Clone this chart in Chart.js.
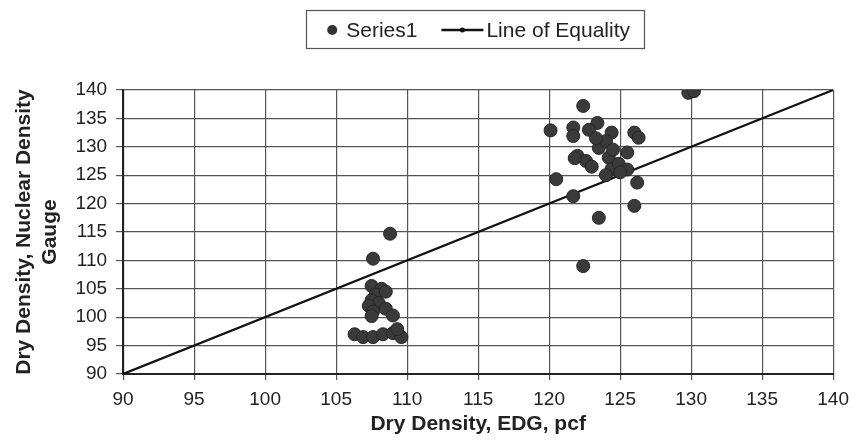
<!DOCTYPE html>
<html>
<head>
<meta charset="utf-8">
<script src="https://cdn.jsdelivr.net/npm/chart.js@4.4.0/dist/chart.umd.min.js"></script>
<style>
  html, body { margin: 0; padding: 0; background: #fff; }
  #wrap { width: 859px; height: 442px; }
</style>
</head>
<body>
<div id="wrap"><canvas id="myChart" width="859" height="442"></canvas></div>
<script>
/* DATA */
// EDG dry density (pcf) vs. nuclear gauge dry density (pcf)
var edgDensity = [
  108.8, 107.6, 107.5, 108.2, 107.8, 108.5, 107.5, 108.0, 107.3, 107.6, 108.5, 107.5, 109.0,
  106.3, 106.9, 107.6, 108.3, 109.0, 109.6, 109.3,
  120.1, 122.4, 129.8, 130.2, 121.7, 121.7, 123.4, 124.4, 126.0, 126.3, 122.0, 122.6, 123.5,
  124.0, 124.2, 125.5, 124.4, 124.9, 126.2, 120.5, 121.7, 126.0, 123.5, 122.4, 125.5, 123.0,
  121.8, 125.0, 124.0, 122.8, 123.3, 124.5
];
var nuclearDensity = [
  114.7, 110.3, 105.5, 105.0, 104.0, 104.5, 103.0, 102.5, 102.0, 101.0, 101.5, 100.2, 100.3,
  97.0, 96.5, 96.5, 97.0, 97.2, 96.5, 97.9,
  132.9, 137.2, 139.5, 139.8, 133.4, 131.9, 134.2, 132.5, 132.5, 131.6, 128.4, 127.5, 129.8,
  131.0, 128.1, 129.0, 126.1, 127.0, 123.7, 124.3, 121.3, 119.6, 117.5, 109.0, 126.0, 126.5,
  128.0, 125.5, 125.0, 133.0, 131.5, 129.5
];
var equalityLine = [90, 140];
var seriesNames = ['Series1', 'Line of Equality'];
var axisMin = 90, axisMax = 140, axisStep = 5;
/* DATA */

var FONT = 'Liberation Sans, Arial, sans-serif';
var scatterPoints = edgDensity.map(function (v, i) { return { x: v, y: nuclearDensity[i] }; });
var linePoints = equalityLine.map(function (v) { return { x: v, y: v }; });

// boxed legend above the plot, drawn by hand (dot marker, line with a small dot)
var boxedLegend = {
  id: 'boxedLegend',
  afterDraw: function (chart) {
    var ctx = chart.ctx;
    var area = chart.chartArea;
    var cy = 30;
    ctx.save();
    ctx.font = '21px ' + FONT;
    var w1 = ctx.measureText(seriesNames[0]).width;
    var w2 = ctx.measureText(seriesNames[1]).width;
    var total = 12 + 8 + w1 + 24 + 42 + 3 + w2;
    var x = (area.left + area.right) / 2 - total / 2;

    ctx.strokeStyle = '#555';
    ctx.lineWidth = 1.2;
    ctx.strokeRect(Math.round(x - 20) + 0.5, 10.5, Math.round(total + 34), 38);

    // Series1 marker
    ctx.fillStyle = '#333';
    ctx.beginPath();
    ctx.arc(x + 6, cy, 5, 0, Math.PI * 2);
    ctx.fill();
    ctx.fillStyle = '#222';
    ctx.textBaseline = 'middle';
    ctx.fillText(seriesNames[0], x + 20, cy + 1);

    // Line of Equality marker
    var lx = x + 20 + w1 + 24;
    ctx.strokeStyle = '#111';
    ctx.lineWidth = 2.5;
    ctx.beginPath();
    ctx.moveTo(lx, cy);
    ctx.lineTo(lx + 42, cy);
    ctx.stroke();
    ctx.fillStyle = '#111';
    ctx.beginPath();
    ctx.arc(lx + 21, cy, 2.5, 0, Math.PI * 2);
    ctx.fill();
    ctx.fillStyle = '#222';
    ctx.fillText(seriesNames[1], lx + 45, cy + 1);
    ctx.restore();
  }
};

var tickFont = { family: FONT, size: 19, lineHeight: 1 };
var xTitleFont = { family: FONT, size: 21, weight: 'bold', lineHeight: 1 };
var yTitleFont = { family: FONT, size: 21, weight: 'bold', lineHeight: 1.2 };

var config = {
    type: 'scatter',
    data: {
        datasets: [
            {
                label: seriesNames[0],
                data: scatterPoints,
                backgroundColor: '#3a3a3a',
                borderColor: '#262626',
                borderWidth: 1,
                pointRadius: 6.5,
                pointHoverRadius: 6.5
            },
            {
                label: seriesNames[1],
                data: linePoints,
                showLine: true,
                borderColor: '#111',
                borderWidth: 2.2,
                pointRadius: 0
            }
        ]
    },
    options: {
        responsive: false,
        animation: false,
        layout: { padding: { left: 12, right: 20, top: 90, bottom: 7 } },
        plugins: {
            legend: { display: false },
            tooltip: { enabled: false }
        },
        scales: {
            x: {
                type: 'linear',
                min: axisMin,
                max: axisMax,
                ticks: { stepSize: axisStep, color: '#222', font: tickFont, padding: 10 },
                grid: { color: '#555', lineWidth: 1.2, tickLength: 6 },
                border: { color: '#222', width: 2 },
                title: { display: true, text: 'Dry Density, EDG, pcf', color: '#222', font: xTitleFont, padding: { top: -5, bottom: 0 } }
            },
            y: {
                type: 'linear',
                min: axisMin,
                max: axisMax,
                ticks: { stepSize: axisStep, color: '#222', font: tickFont, padding: 9 },
                grid: { color: '#555', lineWidth: 1.2, tickLength: 7 },
                border: { color: '#222', width: 2 },
                title: { display: true, text: ['Dry Density, Nuclear Density', 'Gauge'], color: '#222', font: yTitleFont, padding: { top: 0, bottom: 4 } }
            }
        }
    },
    plugins: [boxedLegend]
};

window.onload = function () {
    var ctx = document.getElementById('myChart').getContext('2d');
    window.myChart = new Chart(ctx, config);
};
</script>
</body>
</html>
